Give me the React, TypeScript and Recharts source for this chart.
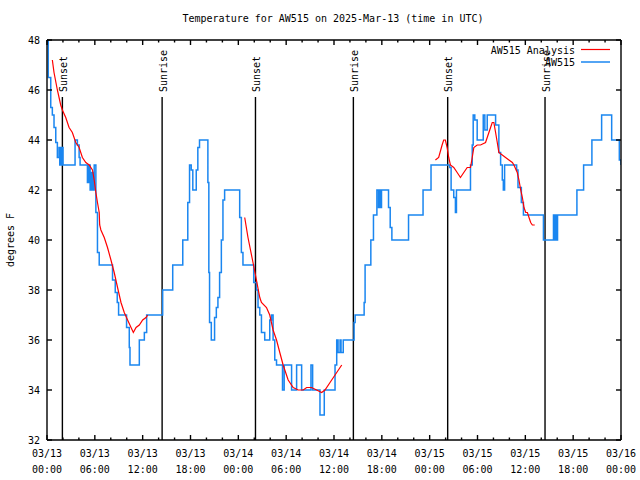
import React from 'react';
import { LineChart, Line, XAxis, YAxis, ReferenceLine } from 'recharts';

const FONT = '"DejaVu Sans Mono", "Liberation Mono", monospace';

const title = 'Temperature for AW515 on 2025-Mar-13 (time in UTC)';
const yAxisTitle = 'degrees F';
const seriesNames = ['AW515 Analysis', 'AW515'];
const seriesColors = ['#ff0000', '#1a86f0'];

// hours since 03/13 00:00 UTC
const xTickHours = [0, 2, 4, 6, 8, 10, 12, 14, 16, 18, 20, 22, 24, 26, 28, 30, 32, 34, 36, 38, 40, 42, 44, 46, 48, 50, 52, 54, 56, 58, 60, 62, 64, 66, 68, 70, 72];
const xDateLabels = ['03/13', '03/13', '03/13', '03/13', '03/14', '03/14', '03/14', '03/14', '03/15', '03/15', '03/15', '03/15', '03/16'];
const xTimeLabels = ['00:00', '06:00', '12:00', '18:00', '00:00', '06:00', '12:00', '18:00', '00:00', '06:00', '12:00', '18:00', '00:00'];
const yTicks = [32, 34, 36, 38, 40, 42, 44, 46, 48];

const sunHours = [1.93, 14.44, 26.15, 38.43, 50.26, 62.47];
const sunLabels = ['Sunset', 'Sunrise', 'Sunset', 'Sunrise', 'Sunset', 'Sunrise'];

// observed (AW515) – [hour, degF]
const observed: [number, number][] = [
  [0, 48], [0.16, 46.5], [0.47, 45.3], [0.67, 45], [0.88, 44.5], [1.1, 43.9], [1.3, 43.3],
  [1.51, 43.7], [1.6, 43], [1.7, 43.7], [1.83, 43], [1.95, 43.7], [2.01, 43], [3.52, 44],
  [3.81, 43.8], [4.03, 43.3], [4.15, 43], [5.07, 42.3], [5.22, 43], [5.41, 42], [5.6, 42.7],
  [5.79, 42], [5.92, 43], [6.13, 41.1], [6.33, 39.5], [6.55, 39], [8.22, 38.4], [8.56, 37.9],
  [8.81, 37.5], [8.98, 37], [9.98, 36.5], [10.32, 35.7], [10.41, 35], [11.58, 36], [12.21, 36.3],
  [12.5, 37], [14.51, 38], [15.77, 39], [17.03, 40], [17.66, 41.5], [17.88, 43], [18.09, 42.8],
  [18.29, 42], [18.72, 42.8], [18.92, 43.7], [19.13, 44], [20.18, 42.3], [20.3, 38.7],
  [20.39, 36.7], [20.61, 36], [21.02, 36.9], [21.24, 37.3], [21.44, 37.7], [21.65, 38.7],
  [21.87, 40], [22.07, 41.6], [22.28, 42], [24.17, 40.9], [24.38, 39.5], [24.58, 39],
  [25.93, 38.3], [26.27, 38], [26.47, 37.3], [26.69, 37], [26.9, 36.3], [27.31, 36],
  [27.94, 36.8], [28.16, 37], [28.36, 36], [28.57, 35.2], [28.79, 35], [29.54, 34], [29.75, 35],
  [30.68, 34], [31.31, 35], [31.94, 34], [33.11, 35], [33.32, 34], [34.24, 33], [34.78, 34],
  [36.13, 35], [36.34, 36], [36.51, 35.5], [36.76, 36], [36.88, 35.5], [37.16, 36],
  [38.52, 36.7], [38.65, 37], [39.78, 37.5], [39.9, 39], [40.62, 40], [40.95, 41], [41.38, 42],
  [41.58, 41.3], [41.7, 42], [41.83, 41.3], [41.96, 42], [42.84, 41.3], [43.05, 40.5],
  [43.26, 40], [45.35, 41], [47.17, 42], [48.17, 43], [50.52, 42.9], [50.69, 42], [51.02, 41.7],
  [51.23, 41.1], [51.36, 42], [53.12, 43], [53.34, 43.8], [53.46, 45], [53.66, 44.8],
  [53.96, 44], [54.72, 45], [54.92, 44.4], [55.22, 45], [56.27, 44.6], [56.68, 43.5],
  [56.9, 43], [57.11, 42.4], [57.24, 42], [57.4, 43], [58.91, 42.8], [59.08, 42.1],
  [59.5, 41.5], [59.76, 41], [62.27, 40], [63.53, 41], [63.66, 40], [63.82, 41], [63.91, 40],
  [64.04, 41], [66.47, 42], [67.31, 43], [68.35, 44], [69.57, 45], [70.83, 44], [71.79, 43.2],
  [72, 43],
];

// analysis (AW515 Analysis) – three night-time segments, null = gap
const analysis: [number, number | null][] = [
  [0.67, 47.2], [0.88, 46.7], [1.3, 46.0], [1.72, 45.4], [1.93, 45.2], [2.35, 44.9], [2.77, 44.5],
  [3.18, 44.3], [3.61, 43.9], [4.03, 43.7], [4.44, 43.3], [4.87, 43.1], [5.29, 43.0], [5.7, 42.8],
  [5.92, 42.4], [6.13, 41.9], [6.33, 41.5], [6.55, 41.1], [6.61, 40.6], [6.76, 40.4], [7.18, 40.1],
  [7.59, 39.7], [8.02, 39.2], [8.43, 38.7], [8.85, 38.1], [9.28, 37.5], [9.69, 37.1], [10.11, 36.8],
  [10.54, 36.5], [10.83, 36.3], [11.17, 36.5], [11.58, 36.6], [12.0, 36.8], [12.42, 36.9],
  [12.63, 37.0],
  [18, null],
  [24.8, 40.9], [25.21, 40.1], [25.84, 39.1], [26.27, 38.4], [26.69, 37.7], [26.9, 37.5],
  [27.53, 37.3], [27.94, 37.0], [28.36, 36.4], [28.79, 36.0], [29.2, 35.5], [29.62, 35.0],
  [30.25, 34.4], [30.88, 34.1], [31.51, 34.0], [32.14, 34.0], [32.57, 34.1], [33.19, 34.1],
  [33.82, 34.0], [34.45, 33.9], [34.87, 34.0], [35.5, 34.3], [36.34, 34.7], [36.97, 35.0],
  [43, null],
  [48.72, 43.2], [49.13, 43.3], [49.56, 43.8], [49.76, 44.0], [49.97, 44.0], [50.19, 43.7],
  [50.39, 43.3], [50.6, 43.0], [51.02, 42.9], [51.45, 42.7], [51.86, 42.5], [52.28, 42.7],
  [52.71, 42.9], [53.12, 42.9], [53.34, 43.3], [53.54, 43.7], [53.96, 43.8], [54.38, 43.8],
  [55.01, 43.9], [55.22, 44.1], [55.64, 44.5], [55.85, 44.7], [56.05, 44.7], [56.27, 44.3],
  [56.48, 43.9], [56.68, 43.5], [57.11, 43.4], [57.52, 43.3], [57.94, 43.2], [58.37, 43.1],
  [58.57, 43.0], [58.99, 42.7], [59.2, 42.4], [59.42, 42.0], [59.63, 41.7], [59.83, 41.3],
  [60.05, 41.1], [60.26, 41.1], [60.46, 40.9], [60.67, 40.7], [60.88, 40.6], [61.18, 40.6],
];

const observedData = observed.map(([h, t]) => ({ h, t }));
const analysisData = analysis.map(([h, t]) => ({ h, t }));

const SUN_TOP = 45.72;
const MAJOR = 5;
const MINOR = 2.5;
const SW = 1.4;

const textStyle = { fontFamily: FONT, fontSize: 10, fill: '#000' } as const;

const BottomTick = (p: any) => {
  const { x, y, payload } = p;
  const v = payload.value as number;
  const major = v % 6 === 0;
  const i = v / 6;
  return (
    <g>
      <line x1={x} x2={x} y1={y} y2={y - (major ? MAJOR : MINOR)} stroke="#000" strokeWidth={SW} />
      {major && (
        <text x={x} y={y + 17} textAnchor="middle" style={textStyle}>{xDateLabels[i]}</text>
      )}
      {major && (
        <text x={x} y={y + 33} textAnchor="middle" style={textStyle}>{xTimeLabels[i]}</text>
      )}
    </g>
  );
};

const TopTick = (p: any) => {
  const { x, y, payload } = p;
  const v = payload.value as number;
  const major = v % 6 === 0;
  return <line x1={x} x2={x} y1={y} y2={y + (major ? MAJOR : MINOR)} stroke="#000" strokeWidth={SW} />;
};

const LeftTick = (p: any) => {
  const { x, y, payload } = p;
  return (
    <g>
      <line x1={x} x2={x + MAJOR} y1={y} y2={y} stroke="#000" strokeWidth={SW} />
      <text x={x - 7} y={y} dy="0.35em" textAnchor="end" style={textStyle}>{payload.value}</text>
    </g>
  );
};

const RightTick = (p: any) => {
  const { x, y } = p;
  return <line x1={x} x2={x - MAJOR} y1={y} y2={y} stroke="#000" strokeWidth={SW} />;
};

const sunLabel = (text: string) => (props: any) => {
  const vb = props.viewBox || {};
  const x = (vb.x ?? 0) + 1;
  const y = (vb.y ?? 0) - 5;
  return (
    <text x={x} y={y} dy="0.35em" transform={`rotate(-90, ${x}, ${y})`} textAnchor="start" style={textStyle}>
      {text}
    </text>
  );
};

export default function App() {
  const axisLine = { stroke: '#000', strokeWidth: SW };
  return (
    <div style={{ position: 'absolute', left: 0, top: 0, width: 640, height: 480, background: '#fff' }}>
      <LineChart width={640} height={480} margin={{ top: 0, right: 0, bottom: 0, left: 0 }}>
        <XAxis xAxisId="b" dataKey="h" type="number" domain={[0, 72]} ticks={xTickHours} interval={0}
          orientation="bottom" height={40} tickSize={0} tickMargin={0} tickLine={false}
          axisLine={axisLine} tick={(p: any) => <BottomTick {...p} />} allowDataOverflow />
        <XAxis xAxisId="t" dataKey="h" type="number" domain={[0, 72]} ticks={xTickHours} interval={0}
          orientation="top" height={40} tickSize={0} tickMargin={0} tickLine={false}
          axisLine={axisLine} tick={(p: any) => <TopTick {...p} />} allowDataOverflow />
        <YAxis yAxisId="l" type="number" domain={[32, 48]} ticks={yTicks} interval={0} width={47}
          orientation="left" tickSize={0} tickMargin={0} tickLine={false}
          axisLine={axisLine} tick={(p: any) => <LeftTick {...p} />} allowDataOverflow />
        <YAxis yAxisId="r" type="number" domain={[32, 48]} ticks={yTicks} interval={0} width={19}
          orientation="right" tickSize={0} tickMargin={0} tickLine={false}
          axisLine={axisLine} tick={(p: any) => <RightTick {...p} />} allowDataOverflow />
        {sunHours.map((h, i) => (
          <ReferenceLine key={i} xAxisId="b" yAxisId="l"
            segment={[{ x: h, y: 32 }, { x: h, y: SUN_TOP }]}
            stroke="#000" strokeWidth={SW} ifOverflow="visible"
            label={sunLabel(sunLabels[i])} />
        ))}
        <Line xAxisId="b" yAxisId="l" data={observedData} dataKey="t" type="stepAfter"
          stroke={seriesColors[1]} strokeWidth={1.5} dot={false} isAnimationActive={false} name={seriesNames[1]} />
        <Line xAxisId="b" yAxisId="l" data={analysisData} dataKey="t" type="linear"
          stroke={seriesColors[0]} strokeWidth={1.2} dot={false} isAnimationActive={false}
          connectNulls={false} name={seriesNames[0]} />
      </LineChart>
      <svg width={640} height={480} style={{ position: 'absolute', left: 0, top: 0, pointerEvents: 'none' }}>
        <text x={333} y={22} textAnchor="middle" style={textStyle}>{title}</text>
        <text x={10} y={240} dy="0.35em" textAnchor="middle" transform="rotate(-90, 10, 240)" style={textStyle}>{yAxisTitle}</text>
        <text x={575} y={50} dy="0.35em" textAnchor="end" style={textStyle}>{seriesNames[0]}</text>
        <line x1={581} x2={610} y1={49.5} y2={49.5} stroke={seriesColors[0]} strokeWidth={1.2} />
        <text x={575} y={62.5} dy="0.35em" textAnchor="end" style={textStyle}>{seriesNames[1]}</text>
        <line x1={581} x2={610} y1={62} y2={62} stroke={seriesColors[1]} strokeWidth={1.5} />
      </svg>
    </div>
  );
}
